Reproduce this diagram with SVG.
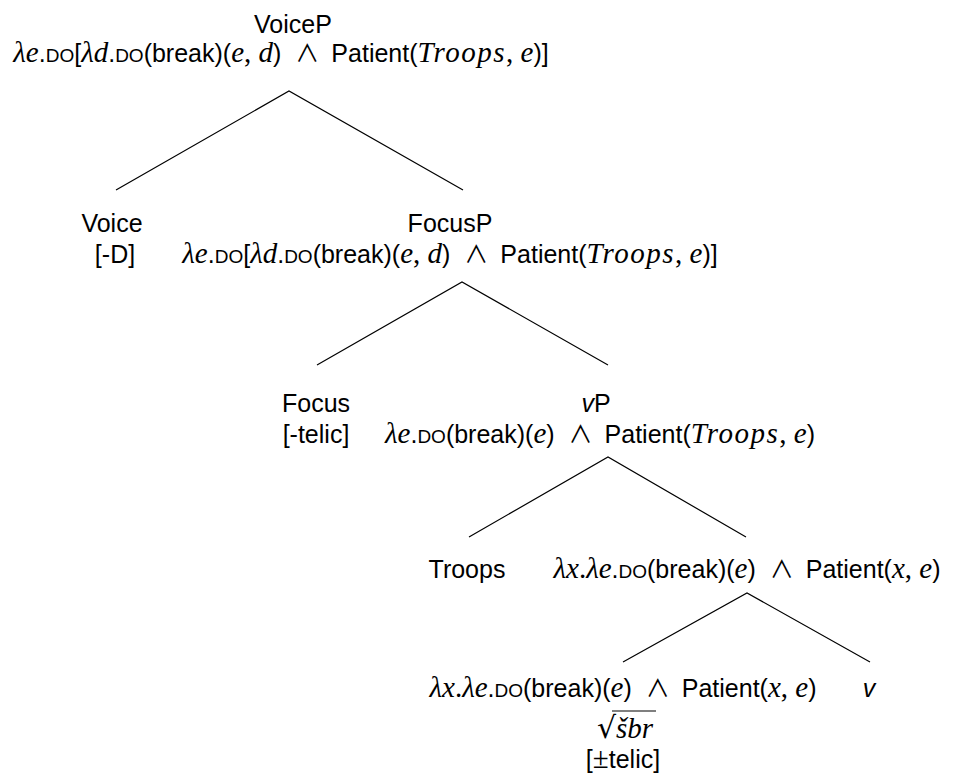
<svg xmlns="http://www.w3.org/2000/svg" width="954" height="782" viewBox="0 0 954 782">
  <style>
    text { font-family: "Liberation Sans", Arial, sans-serif; font-size: 25px; fill: #000; text-anchor: middle; }
    .m { font-family: "Liberation Serif", "DejaVu Serif", serif; font-style: italic; font-size: 29px; }
    .r { font-family: "Liberation Serif", "DejaVu Serif", serif; font-style: normal; font-size: 29px; }
    .w { letter-spacing: 1.5px; }
    .sc { font-size: 19px; }
    .sl { font-style: italic; }
    .and { font-family: "Noto Sans CJK JP", "DejaVu Sans", sans-serif; font-size: 24px; }
    .rad { font-family: "DejaVu Serif", serif; font-size: 30px; }
    .edge { stroke: #000; stroke-width: 1.2; fill: none; }
  </style>

  <!-- branches: each subtree drawn as one open triangle -->
  <g id="connectors">
    <path class="edge" d="M116,190 L289,91 L463,190"/>
    <path class="edge" d="M317,365 L462,282 L608,365"/>
    <path class="edge" d="M469,537 L608,457 L746,537"/>
    <path class="edge" d="M623,662 L747,593 L870,662"/>
  </g>

  <g id="voiceP">
    <text x="293" y="33">VoiceP</text>
    <text x="281" y="62"><tspan class="m">λe</tspan>.<tspan class="sc">DO</tspan>[<tspan class="m">λd</tspan>.<tspan class="sc">DO</tspan>(break)(<tspan class="m">e</tspan><tspan class="r">, </tspan><tspan class="m">d</tspan>)<tspan class="and" dx="14">∧</tspan><tspan dx="12">Patient(</tspan><tspan class="m w">Troops</tspan><tspan class="r">, </tspan><tspan class="m">e</tspan>)]</text>
  </g>

  <g id="voice">
    <text x="112" y="232">Voice</text>
    <text x="115" y="263">[-D]</text>
  </g>

  <g id="focusP">
    <text x="450" y="232">FocusP</text>
    <text x="450" y="263"><tspan class="m">λe</tspan>.<tspan class="sc">DO</tspan>[<tspan class="m">λd</tspan>.<tspan class="sc">DO</tspan>(break)(<tspan class="m">e</tspan><tspan class="r">, </tspan><tspan class="m">d</tspan>)<tspan class="and" dx="14">∧</tspan><tspan dx="12">Patient(</tspan><tspan class="m w">Troops</tspan><tspan class="r">, </tspan><tspan class="m">e</tspan>)]</text>
  </g>

  <g id="focus">
    <text x="316" y="412">Focus</text>
    <text x="316" y="443">[-telic]</text>
  </g>

  <g id="vP">
    <text x="596" y="412"><tspan class="sl">v</tspan>P</text>
    <text x="600" y="443"><tspan class="m">λe</tspan>.<tspan class="sc">DO</tspan>(break)(<tspan class="m">e</tspan>)<tspan class="and" dx="14">∧</tspan><tspan dx="12">Patient(</tspan><tspan class="m w">Troops</tspan><tspan class="r">, </tspan><tspan class="m">e</tspan>)</text>
  </g>

  <g id="troops">
    <text x="467" y="578">Troops</text>
  </g>

  <g id="vbar">
    <text x="747" y="578"><tspan class="m">λx</tspan><tspan class="r">.</tspan><tspan class="m">λe</tspan>.<tspan class="sc">DO</tspan>(break)(<tspan class="m">e</tspan>)<tspan class="and" dx="14">∧</tspan><tspan dx="12">Patient(</tspan><tspan class="m">x</tspan><tspan class="r">, </tspan><tspan class="m">e</tspan>)</text>
  </g>

  <g id="root">
    <text x="623" y="697"><tspan class="m">λx</tspan><tspan class="r">.</tspan><tspan class="m">λe</tspan>.<tspan class="sc">DO</tspan>(break)(<tspan class="m">e</tspan>)<tspan class="and" dx="14">∧</tspan><tspan dx="12">Patient(</tspan><tspan class="m">x</tspan><tspan class="r">, </tspan><tspan class="m">e</tspan>)</text>
    <text x="625" y="738"><tspan class="rad">√</tspan><tspan class="m">šbr</tspan></text>
    <line class="edge" x1="612" y1="711" x2="656" y2="711"/>
    <text x="623" y="768">[<tspan class="r">±</tspan>telic]</text>
  </g>

  <g id="v">
    <text x="869" y="697" class="sl">v</text>
  </g>
</svg>
